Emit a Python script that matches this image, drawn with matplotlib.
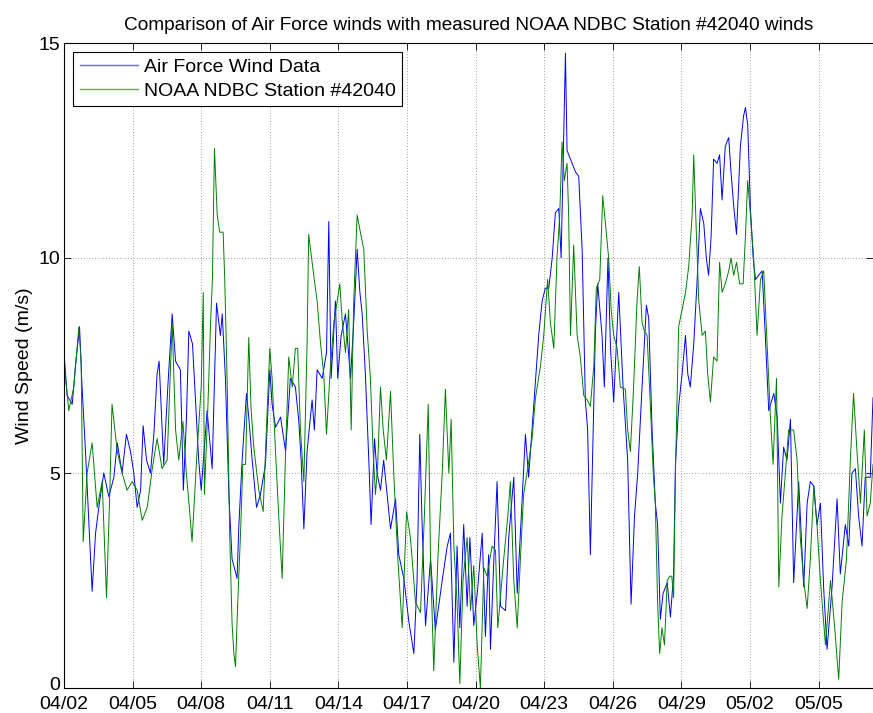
import matplotlib
matplotlib.use("Agg")
import matplotlib.pyplot as plt
from matplotlib.transforms import ScaledTranslation

# x values are days since 04/02 00:00
tick_days = [0, 3, 6, 9, 12, 15, 18, 21, 24, 27, 30, 33]
tick_labels = ["04/02", "04/05", "04/08", "04/11", "04/14", "04/17",
               "04/20", "04/23", "04/26", "04/29", "05/02", "05/05"]
y_ticks = [0, 5, 10, 15]

af_days = [
    0.00, 0.14, 0.36, 0.50, 0.68, 0.79, 0.94, 1.09, 1.23, 1.38, 1.52, 1.74, 1.96, 2.18, 2.33,
    2.54, 2.73, 2.91, 3.05, 3.20, 3.35, 3.46, 3.61, 3.78, 3.93, 4.07, 4.16, 4.36, 4.54, 4.73,
    4.88, 5.09, 5.22, 5.35, 5.46, 5.62, 5.89, 6.00, 6.26, 6.48, 6.67, 6.84, 6.92, 7.06, 7.21,
    7.35, 7.57, 7.64, 7.79, 7.98, 8.08, 8.23, 8.42, 8.59, 8.81, 9.00, 9.10, 9.25, 9.47, 9.69,
    9.90, 10.12, 10.27, 10.37, 10.49, 10.63, 10.85, 10.95, 11.07, 11.29, 11.48, 11.58, 11.68,
    11.77, 11.87, 11.97, 12.12, 12.31, 12.53, 12.67, 12.82, 12.94, 13.04, 13.18, 13.33, 13.43,
    13.58, 13.69, 13.84, 13.98, 14.13, 14.28, 14.50, 14.64, 14.86, 15.08, 15.30, 15.44, 15.56,
    15.65, 15.81, 16.03, 16.24, 16.54, 16.76, 16.90, 17.05, 17.19, 17.31, 17.48, 17.63, 17.75,
    17.92, 18.09, 18.29, 18.43, 18.57, 18.65, 18.80, 18.94, 19.09, 19.31, 19.45, 19.67, 19.82,
    19.96, 20.18, 20.32, 20.54, 20.76, 20.91, 21.05, 21.20, 21.35, 21.49, 21.64, 21.74, 21.83,
    21.93, 22.00, 22.15, 22.37, 22.51, 22.66, 22.80, 22.90, 23.02, 23.14, 23.24, 23.34, 23.53,
    23.63, 23.79, 23.90, 24.04, 24.26, 24.45, 24.65, 24.80, 24.95, 25.09, 25.28, 25.47, 25.57,
    25.72, 25.86, 25.96, 26.08, 26.20, 26.38, 26.52, 26.66, 26.74, 26.88, 27.03, 27.18, 27.28,
    27.39, 27.54, 27.69, 27.83, 27.98, 28.09, 28.19, 28.30, 28.41, 28.56, 28.67, 28.78, 28.92,
    29.07, 29.17, 29.29, 29.41, 29.58, 29.72, 29.80, 29.90, 30.02, 30.14, 30.24, 30.38, 30.53,
    30.67, 30.82, 31.04, 31.19, 31.33, 31.47, 31.62, 31.77, 31.91, 32.13, 32.35, 32.50, 32.64,
    32.79, 32.93, 33.08, 33.22, 33.37, 33.59, 33.81, 33.95, 34.17, 34.32, 34.46, 34.61, 34.75,
    34.90, 35.04, 35.26, 35.38,
]
af_speed = [
    7.8, 6.8, 6.6, 7.5, 8.4, 7.0, 5.5, 3.8, 2.25, 3.6, 4.2, 5.0, 4.45, 4.9, 5.7,
    5.0, 5.9, 5.5, 5.0, 4.2, 4.6, 6.1, 5.3, 5.0, 5.9, 7.3, 7.6, 5.2, 7.0, 8.7,
    7.6, 7.4, 4.6, 6.2, 8.3, 8.0, 5.3, 4.6, 6.45, 5.1, 8.95, 8.2, 8.7, 7.2, 4.5,
    3.0, 2.55, 3.7, 5.3, 6.85, 6.3, 5.3, 4.2, 4.5, 5.2, 7.4, 6.6, 6.06, 6.3, 5.5,
    7.2, 7.0, 6.2, 5.3, 3.7, 5.5, 6.7, 6.0, 7.4, 7.2, 7.8, 10.85, 7.2,
    8.0, 9.0, 7.2, 8.2, 8.7, 7.2, 8.5, 10.2, 9.2, 8.7, 7.3, 5.3, 3.8,
    5.8, 5.0, 4.6, 5.3, 4.5, 3.7, 4.4, 3.1, 2.55, 1.55, 0.8, 2.5, 5.9,
    4.0, 1.45, 3.0, 1.35, 2.5, 3.3, 3.6, 0.6, 3.3, 1.4, 3.8, 1.9, 3.5,
    1.45, 2.3, 3.6, 1.2, 3.1, 0.9, 3.0, 4.8, 1.9, 1.8, 3.5, 4.9, 2.2,
    3.6, 5.9, 4.9, 6.55, 8.2, 9.0, 9.3, 9.3, 10.0, 11.05, 11.15, 10.0, 12.3,
    14.76, 12.5, 12.3, 12.0, 11.9, 10.2, 6.7, 6.0, 3.1, 6.0, 8.3, 9.4, 8.2,
    7.0, 10.0, 7.9, 6.65, 9.2, 7.0, 5.3, 1.95, 4.0, 5.0, 7.0, 8.9, 8.6,
    6.0, 4.3, 3.8, 1.6, 2.2, 2.45, 1.65, 2.65, 5.2, 6.55, 7.3, 8.2, 7.3,
    7.0, 8.0, 9.5, 11.15, 10.8, 10.0, 9.6, 10.5, 12.3, 12.2, 12.4, 11.35, 12.6,
    12.8, 12.0, 11.2, 10.55, 12.6, 13.3, 13.5, 13.1, 11.15, 10.0, 9.5, 9.6, 9.7,
    8.2, 6.45, 6.85, 6.3, 4.3, 5.6, 5.3, 6.25, 2.45, 4.8, 2.35, 4.3, 4.8,
    4.7, 3.8, 4.3, 2.35, 0.9, 2.35, 4.4, 2.65, 3.8, 3.3, 5.0, 5.1, 4.0,
    3.3, 4.9, 4.9, 6.75,
]

noaa_days = [
    0.00, 0.05, 0.21, 0.43, 0.65, 0.75, 0.84, 1.01, 1.23, 1.45, 1.67, 1.86, 2.00, 2.10, 2.33,
    2.54, 2.76, 2.98, 3.20, 3.42, 3.64, 3.86, 4.07, 4.29, 4.51, 4.73, 4.88, 5.02, 5.20, 5.35,
    5.48, 5.60, 5.82, 6.00, 6.09, 6.14, 6.29, 6.41, 6.49, 6.58, 6.70, 6.81, 6.96, 7.03, 7.14,
    7.25, 7.35, 7.43, 7.50, 7.60, 7.72, 7.82, 7.94, 8.08, 8.18, 8.30, 8.52, 8.71, 8.85, 9.00,
    9.10, 9.25, 9.39, 9.54, 9.69, 9.83, 9.98, 10.12, 10.22, 10.34, 10.49, 10.63, 10.70, 10.92,
    11.07, 11.22, 11.36, 11.48, 11.62, 11.80, 11.95, 12.06, 12.16, 12.31, 12.45, 12.56, 12.67,
    12.82, 12.96, 13.11, 13.26, 13.40, 13.52, 13.62, 13.72, 13.84, 13.96, 14.10, 14.28, 14.42,
    14.60, 14.79, 14.98, 15.15, 15.37, 15.59, 15.76, 15.93, 16.03, 16.17, 16.35, 16.54, 16.68,
    16.83, 16.93, 17.05, 17.19, 17.31, 17.45, 17.63, 17.78, 17.92, 18.07, 18.21, 18.36, 18.50,
    18.72, 18.87, 18.97, 19.23, 19.41, 19.52, 19.67, 19.82, 19.96, 20.10, 20.25, 20.47, 20.62,
    20.84, 20.98, 21.15, 21.27, 21.42, 21.56, 21.68, 21.78, 21.88, 22.00, 22.07, 22.15, 22.29,
    22.44, 22.58, 22.73, 22.88, 23.02, 23.17, 23.28, 23.43, 23.56, 23.68, 23.82, 23.93, 24.04,
    24.19, 24.33, 24.55, 24.65, 24.77, 24.91, 25.06, 25.16, 25.28, 25.38, 25.50, 25.65, 25.77,
    25.86, 25.96, 26.05, 26.15, 26.26, 26.38, 26.49, 26.58, 26.66, 26.74, 26.88, 27.03, 27.18,
    27.32, 27.47, 27.54, 27.66, 27.76, 27.91, 28.05, 28.15, 28.27, 28.41, 28.56, 28.67, 28.78,
    28.92, 29.07, 29.17, 29.29, 29.41, 29.55, 29.70, 29.80, 29.90, 30.02, 30.16, 30.31, 30.46,
    30.60, 30.75, 30.90, 31.01, 31.16, 31.26, 31.40, 31.55, 31.69, 31.91, 32.06, 32.20, 32.35,
    32.50, 32.64, 32.79, 32.93, 33.08, 33.30, 33.52, 33.69, 33.88, 34.03, 34.22, 34.39, 34.53,
    34.68, 34.83, 35.00, 35.12, 35.26, 35.38,
]
noaa_speed = [
    7.5, 7.3, 6.45, 7.0, 8.4, 7.6, 3.4, 5.0, 5.7, 4.2, 4.8, 2.1, 4.5, 6.6, 5.5,
    5.0, 4.6, 4.8, 4.6, 3.9, 4.2, 5.1, 5.8, 5.1, 5.3, 8.5, 6.0, 5.3, 6.2, 5.0,
    4.2, 3.4, 5.5, 7.0, 9.2, 4.5, 6.5, 8.5, 9.5, 12.55, 11.0, 10.6, 10.6, 9.5, 7.0,
    3.5, 1.5, 0.8, 0.5, 2.0, 3.6, 5.2, 5.2, 8.15, 6.5, 5.6, 4.6, 4.1, 6.0, 7.9,
    7.2, 5.5, 4.0, 2.55, 5.5, 7.7, 7.0, 7.9, 7.9, 6.0, 4.8, 8.0, 10.55, 9.6,
    9.0, 8.0, 7.3, 5.9, 7.2, 8.5, 9.0, 9.4, 8.6, 7.8, 8.8, 6.0, 9.0,
    11.0, 10.6, 10.2, 8.3, 7.2, 5.5, 4.5, 5.2, 7.0, 6.0, 5.3, 6.9, 5.0,
    3.0, 1.4, 4.1, 3.5, 2.0, 1.75, 4.0, 6.6, 3.0, 0.4, 3.0, 5.0, 6.95,
    5.0, 6.25, 3.3, 2.0, 0.1, 2.5, 3.5, 1.8, 2.85, 1.0, 0.0, 2.8, 2.6,
    3.3, 3.2, 1.4, 3.0, 4.0, 4.8, 2.5, 1.4, 3.0, 4.5, 5.0, 5.8, 6.75,
    7.5, 8.2, 9.5, 8.5, 7.9, 10.0, 11.0, 12.7, 11.8, 12.2, 11.0, 8.2, 10.3,
    8.2, 7.7, 6.8, 6.7, 6.55, 7.5, 9.3, 9.5, 11.45, 10.8, 10.0, 8.8, 8.2,
    7.9, 7.0, 6.95, 6.0, 5.5, 7.0, 9.0, 9.8, 8.5, 8.3, 8.2, 6.5, 5.0,
    4.3, 2.0, 0.8, 1.4, 1.0, 2.5, 2.6, 2.6, 2.1, 5.0, 8.4, 8.8, 9.2,
    9.8, 11.0, 12.4, 10.5, 9.0, 8.2, 8.3, 7.3, 6.65, 7.7, 7.6, 9.9, 9.2,
    9.4, 9.7, 10.0, 9.6, 9.9, 9.4, 9.4, 10.5, 11.8, 11.0, 10.0, 8.2, 9.5,
    9.7, 8.0, 6.25, 5.2, 7.2, 2.35, 4.0, 5.0, 6.0, 6.0, 5.3, 3.5, 2.5,
    1.85, 3.0, 4.7, 3.8, 2.5, 1.0, 2.5, 1.5, 0.2, 2.0, 3.0, 5.3, 6.85,
    5.5, 4.3, 6.0, 4.0, 4.3, 5.2,
]

plt.rcParams["font.family"] = ["Liberation Sans", "DejaVu Sans"]

fig = plt.figure(figsize=(8.73, 7.13), dpi=100)
ax = fig.add_axes([64 / 873, 25 / 713, 809 / 873, 645 / 713])

ax.plot(af_days, af_speed, color=(0, 0, 1), lw=0.7, label="Air Force Wind Data")
ax.plot(noaa_days, noaa_speed, color=(0, 0.5, 0), lw=0.7, label="NOAA NDBC Station #42040")

ax.set_xlim(0, 35.38)
ax.set_ylim(0, 15)
ax.set_xticks(tick_days)
ax.set_xticklabels(tick_labels)
ax.set_yticks(y_ticks)
ax.tick_params(direction="in", top=True, right=True, labelsize=14, length=5, width=0.6)
ax.tick_params(axis="x", pad=6)
ax.tick_params(axis="y", pad=3)
ax.grid(True, color="black", linestyle=(0, (1, 3)), linewidth=0.5, alpha=0.7)
for side in ["left", "bottom", "top"]:
    ax.spines[side].set_linewidth(0.8)
ax.spines["right"].set_visible(False)

# lift the "0" label a little so it clears the first date label
zero_label = ax.get_yticklabels()[0]
zero_label.set_transform(zero_label.get_transform() + ScaledTranslation(0, 3 / 72, fig.dpi_scale_trans))

ax.set_ylabel("Wind Speed (m/s)", fontsize=14, labelpad=4)
ax.set_title("Comparison of Air Force winds with measured NOAA NDBC Station #42040 winds",
             fontsize=13.7, pad=9)

leg = ax.legend(loc="upper left", fontsize=14, fancybox=False, framealpha=1,
                edgecolor="black", borderaxespad=0.45, handlelength=3.0,
                borderpad=0.35, labelspacing=0.3, handletextpad=0.3)
leg.get_frame().set_linewidth(0.8)
leg_colors = [(0.4, 0.4, 1.0), (0.3, 0.7, 0.3)]
for line, col in zip(leg.get_lines(), leg_colors):
    line.set_color(col)
    line.set_linewidth(1.0)

fig.savefig("out.png", dpi=100)
